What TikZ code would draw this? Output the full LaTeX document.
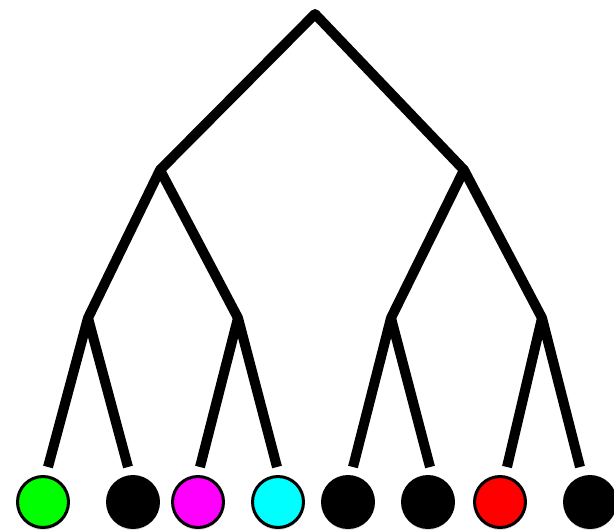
\documentclass[tikz,border=0pt]{standalone}
\usetikzlibrary{shadows}
\definecolor{leafgreen}{RGB}{0,255,0}
\definecolor{leafmagenta}{RGB}{255,0,255}
\definecolor{leafcyan}{RGB}{0,255,255}
\definecolor{leafred}{RGB}{255,0,0}
\begin{document}
\begin{tikzpicture}[x=0.02cm, y=-0.02cm, line width=0.2cm, line join=round,
    leaf/.style={circle, draw=black, line width=0.06cm, minimum size=1.02cm, inner sep=0pt,
      drop shadow={shadow xshift=0pt, shadow yshift=-1.5pt, opacity=0.25}}]
	\useasboundingbox (0,0) rectangle (614,531);
	% inner points of the tree
	\coordinate (root) at (315,14);
	\coordinate (l) at (160,170);
	\coordinate (r) at (464,170);
	\coordinate (ll) at (88,318);
	\coordinate (lr) at (238,318);
	\coordinate (rl) at (391,318);
	\coordinate (rr) at (542,318);
	
	% leaves
	\node[leaf, fill=leafgreen] (a) at (43,502) {};
	\node[leaf, fill=black] (b) at (133,502) {};
	\node[leaf, fill=leafmagenta] (c) at (198,502) {};
	\node[leaf, fill=leafcyan] (d) at (278,502) {};
	\node[leaf, fill=black] (e) at (348,502) {};
	\node[leaf, fill=black] (f) at (428,502) {};
	\node[leaf, fill=leafred] (g) at (500,502) {};
	\node[leaf, fill=black] (h) at (590,502) {};
	
	% ends of the leaf branches
	\coordinate (ta) at (48,467);
	\coordinate (tb) at (128,467);
	\coordinate (tc) at (200,467);
	\coordinate (td) at (277,467);
	\coordinate (te) at (353,467);
	\coordinate (tf) at (430,467);
	\coordinate (tg) at (507,467);
	\coordinate (th) at (580,467);
	
	\draw (l) -- (root) -- (r);
	\draw (ll) -- (l) -- (lr);
	\draw (rl) -- (r) -- (rr);
	\draw (ta) -- (ll) -- (tb);
	\draw (tc) -- (lr) -- (td);
	\draw (te) -- (rl) -- (tf);
	\draw (tg) -- (rr) -- (th);
\end{tikzpicture}
\end{document}
